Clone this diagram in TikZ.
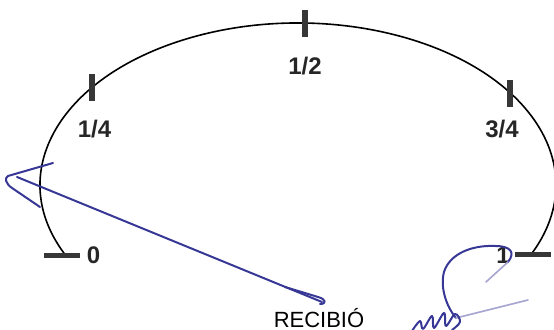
\documentclass[tikz,border=0pt]{standalone}
\usepackage{fontspec}
\setmainfont{Liberation Sans}
\usetikzlibrary{calc}
\definecolor{tickgray}{RGB}{55,55,55}
\definecolor{sigblue}{RGB}{55,55,150}
\tikzset{
  vtick/.style={fill=tickgray, inner sep=0pt, minimum width=3pt, minimum height=13.5pt},
  htick/.style={fill=tickgray, inner sep=0pt, minimum width=18pt, minimum height=2.5pt},
  ticklabel/.style={font=\bfseries\fontsize{12}{14}\selectfont, text=black!85, inner sep=0pt},
  sig/.style={sigblue, line width=1pt, line cap=round, line join=round},
  sigfaint/.style={sigblue!45, line width=0.8pt, line cap=round}
}
\begin{document}
\begin{tikzpicture}[x=0.5pt, y=-0.5pt]
    \useasboundingbox (0,0) rectangle (554,330);

    % 弧线
    \coordinate (c) at (298,185);
    \draw[line width=0.8pt] ($(c)+(154.4:258 and 162)$) arc[start angle=154.4, end angle=385.6, x radius=258, y radius=162];

    % 刻度
    \node[htick] (t0) at (62,256) {};
    \node[vtick] (t1) at ($(c)+(216.9:258 and 162)$) {};
    \node[vtick] (t2) at ($(c)+(271.6:258 and 162)$) {};
    \node[vtick] (t3) at ($(c)+(325.4:258 and 162)$) {};
    \node[htick] (t4) at (533,255) {};

    % 标签
    \node[ticklabel] (l0) at (93.5,255) {0};
    \node[ticklabel] (l1) at (94.5,129) {1/4};
    \node[ticklabel] (l2) at (305,66) {1/2};
    \node[ticklabel] (l3) at (502,129) {3/4};
    \node[ticklabel] (l4) at (503,255) {1};

    % 签名
    \node[anchor=base, inner sep=0pt, font=\fontsize{11}{13}\selectfont] (recibio) at (319,328) {RECIBIÓ};
    \draw[sig] (53,163) -- (8,176) .. controls (4,178) and (6,184) .. (12,188) -- (40,207);
    \draw[sig] (17,177) -- (322,302);
    \draw[sig] (285,287) -- (318,297) .. controls (326,299) and (327,304) .. (320,304);
    \draw[sig] (456,318) .. controls (446,306) and (440,287) .. (444,272)
        .. controls (450,253) and (473,245) .. (495,246)
        .. controls (510,246) and (516,252) .. (508,262);
    \draw[sigfaint] (508,262) -- (486,282);
    \draw[sigfaint] (456,318) -- (528,300);
    \draw[sig] plot[smooth, tension=0.6] coordinates {(412,331) (420,321) (423,329) (432,316) (434,328) (444,313) (446,326) (455,314) (460,322) (452,330)};
\end{tikzpicture}
\end{document}
